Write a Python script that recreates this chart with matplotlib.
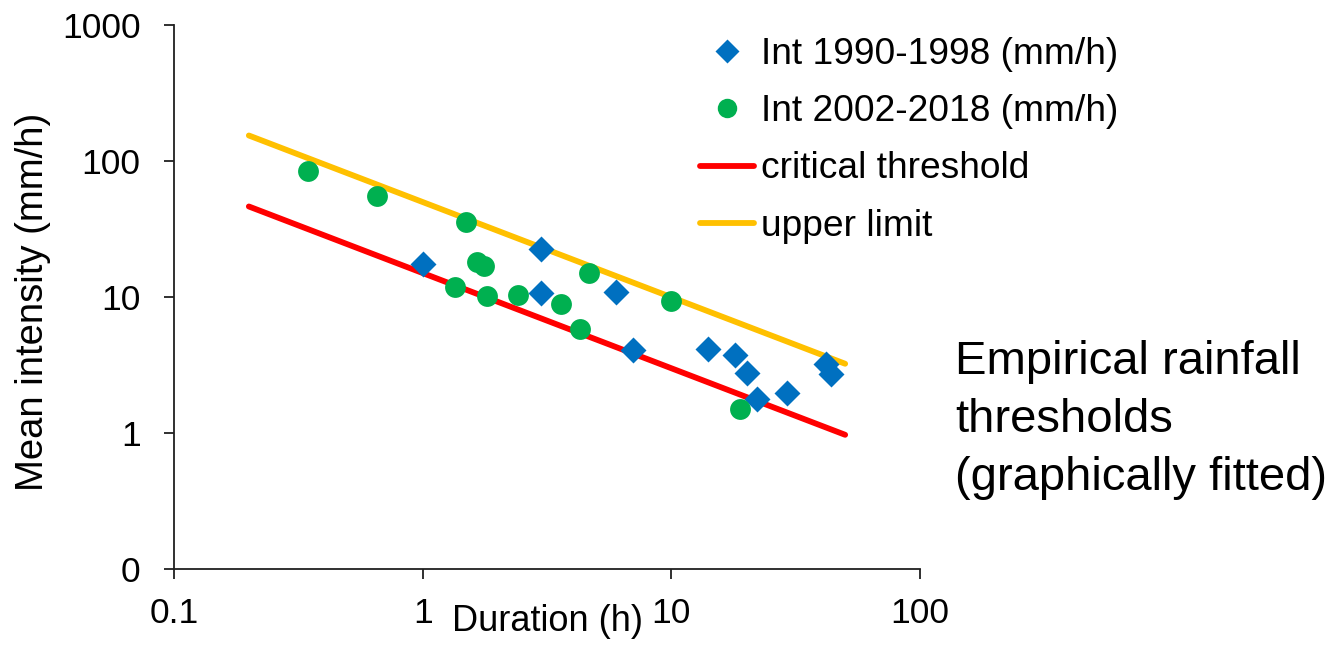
import matplotlib
matplotlib.use("Agg")
import matplotlib.pyplot as plt
from matplotlib.lines import Line2D

plt.rcParams['font.family'] = ['Liberation Sans', 'DejaVu Sans']

# Rainfall events 1990-1998: duration (h) and mean intensity (mm/h)
dur_1990 = [1.0, 2.98, 2.98, 5.97, 7.0, 14.0, 18.0, 20.1, 22.1, 29.2, 41.9, 43.8]
int_1990 = [17.5, 22.5, 10.7, 10.9, 4.07, 4.15, 3.75, 2.76, 1.78, 1.97, 3.21, 2.72]

# Rainfall events 2002-2018
dur_2002 = [0.347, 0.657, 1.49, 1.66, 1.76, 1.35, 1.82, 2.41, 3.59, 4.65, 4.28, 9.95, 18.9]
int_2002 = [84.4, 55.3, 35.6, 18.1, 16.9, 11.8, 10.2, 10.4, 8.88, 15.0, 5.82, 9.35, 1.50]

# Graphically fitted threshold lines (end points)
line_dur = [0.2, 50.0]
critical = [46.3, 0.97]
upper = [154.0, 3.23]

y_ticks = [0.1, 1, 10, 100, 1000]
y_tick_labels = ["0", "1", "10", "100", "1000"]
x_ticks = [0.1, 1, 10, 100]
x_tick_labels = ["0.1", "1", "10", "100"]

BLUE = "#0070C0"
GREEN = "#00B050"
RED = "#FF0000"
ORANGE = "#FFC000"
FS = 26

fig = plt.figure(figsize=(13.32, 6.45), dpi=100)
ax = fig.add_axes([174 / 1332, 1 - 569 / 645, 746 / 1332, 544 / 645])

ax.plot(line_dur, critical, color=RED, lw=4.2, solid_capstyle='round', zorder=2)
ax.plot(line_dur, upper, color=ORANGE, lw=4.2, solid_capstyle='round', zorder=2)
ax.plot(dur_1990, int_1990, 'D', color=BLUE, ms=13, mec='none', zorder=3)
ax.plot(dur_2002, int_2002, 'o', color=GREEN, ms=15, mec='none', zorder=3)

ax.set_xscale('log')
ax.set_yscale('log')
ax.set_xlim(0.1, 100)
ax.set_ylim(0.1, 1000)
ax.set_xticks(x_ticks)
ax.set_xticklabels(x_tick_labels)
ax.set_yticks(y_ticks)
ax.set_yticklabels(y_tick_labels)
ax.minorticks_off()

for side in ('top', 'right'):
    ax.spines[side].set_visible(False)
for side in ('left', 'bottom'):
    ax.spines[side].set_linewidth(1.3)
    ax.spines[side].set_color('#202020')
ax.tick_params(axis='both', direction='out', length=7.5, width=1.3,
               color='#202020', labelsize=25.5)
ax.tick_params(axis='x', pad=13)
ax.tick_params(axis='y', pad=16.5)

ax.set_xlabel("Duration (h)", fontsize=FS)
ax.xaxis.set_label_coords(0.5, -0.065)
ax.set_ylabel("Mean intensity (mm/h)", fontsize=27.5)
ax.yaxis.set_label_coords(-0.165, 0.491)

handles = [
    Line2D([], [], ls='none', marker='D', color=BLUE, ms=12, mec='none'),
    Line2D([], [], ls='none', marker='o', color=GREEN, ms=14, mec='none'),
    Line2D([], [], color=RED, lw=4.2, solid_capstyle='round'),
    Line2D([], [], color=ORANGE, lw=4.2, solid_capstyle='round'),
]
labels = ["Int 1990-1998 (mm/h)", "Int 2002-2018 (mm/h)",
          "critical threshold", "upper limit"]
fig.legend(handles, labels, loc='upper left',
           bbox_to_anchor=(700 / 1332, 1 - 37 / 645), frameon=False,
           fontsize=26.7, handlelength=1.45, handletextpad=0.2,
           labelspacing=0.6, borderpad=0, borderaxespad=0)

fig.text(955 / 1332, 1 - 420 / 645,
         "Empirical rainfall\nthresholds\n(graphically fitted)",
         fontsize=34, ha='left', va='center', linespacing=1.4)

fig.savefig("out.png", dpi=100)
